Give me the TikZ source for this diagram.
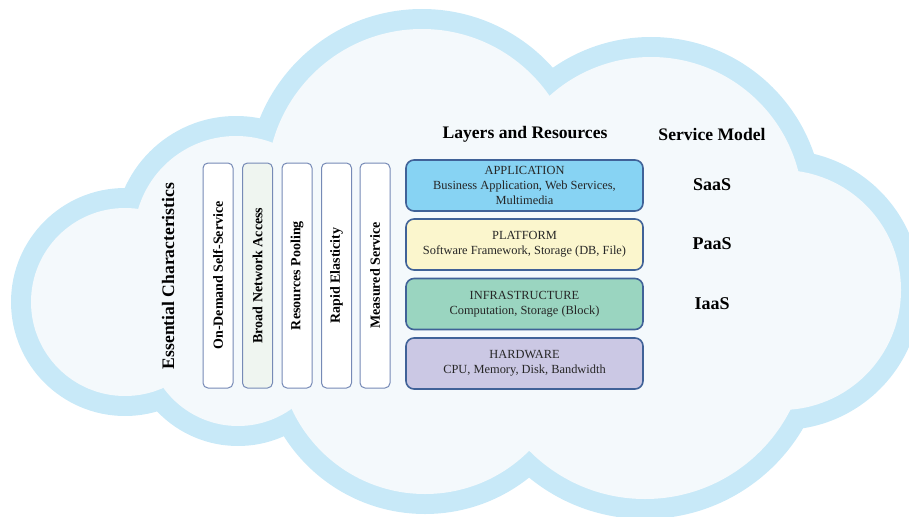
\documentclass[tikz,border=0pt]{standalone}
\usepackage{fontspec}
\setmainfont{Liberation Serif}
\definecolor{cloudband}{RGB}{200,233,248}
\definecolor{cloudfill}{RGB}{244,249,252}
\definecolor{layerline}{RGB}{64,98,152}
\definecolor{charline}{RGB}{118,138,182}
\definecolor{appfill}{RGB}{135,211,243}
\definecolor{platfill}{RGB}{251,246,205}
\definecolor{infrafill}{RGB}{154,213,192}
\definecolor{hwfill}{RGB}{203,200,228}
\definecolor{netfill}{RGB}{239,245,240}
\begin{document}
\begin{tikzpicture}[x=1pt, y=-1pt,
    charbox/.style={draw=charline, line width=1pt, rounded corners=5pt, fill=white,
        rotate=90, minimum width=225pt, minimum height=30pt, inner sep=0pt,
        font=\fontsize{14}{16}\selectfont\bfseries},
    layerbox/.style={draw=layerline, line width=1.6pt, rounded corners=8pt, align=center,
        minimum width=237pt, minimum height=51pt, inner sep=0pt, text=black!85,
        font=\fontsize{12.4}{15}\selectfont},
    heading/.style={font=\fontsize{17.6}{20}\selectfont\bfseries},
    model/.style={font=\fontsize{18}{20}\selectfont\bfseries}]
    % Cloud
    \begin{scope}
        \clip (0,0) rectangle (909,516);
        \foreach \cx/\cy/\r in {125/302/114, 236/238/122, 422/184/175, 651/209/172,
                781/290/140, 645/336/183, 425/347/167, 238/334/112} {
            \fill[cloudband] (\cx,\cy) circle[radius=\r];
        }
        \foreach \cx/\cy/\r in {125/302/114, 236/238/122, 422/184/175, 651/209/172,
                781/290/140, 645/336/183, 425/347/167, 238/334/112} {
            \fill[cloudfill] (\cx,\cy) circle[radius=\r-20];
        }
        \fill[cloudfill] (125,302) -- (236,238) -- (422,184) -- (651,209) -- (781,290)
            -- (645,336) -- (425,347) -- (238,334) -- cycle;
    \end{scope}

    % Headings
    \node[heading, rotate=90] (essential) at (168,276) {Essential Characteristics};
    \node[heading] (layers) at (525,134) {Layers and Resources};
    \node[heading] (service) at (712,134) {Service Model};

    % Essential characteristics
    \node[charbox] (ondemand) at (218,275.5) {On-Demand Self-Service};
    \node[charbox, fill=netfill] (network) at (257.5,275.5) {Broad Network Access};
    \node[charbox] (pooling) at (297,275.5) {Resources Pooling};
    \node[charbox] (elastic) at (336.5,275.5) {Rapid Elasticity};
    \node[charbox] (measured) at (375,275.5) {Measured Service};

    % Layers
    \node[layerbox, fill=appfill] (app) at (524.5,185.5)
        {APPLICATION\\Business Application, Web Services,\\Multimedia};
    \node[layerbox, fill=platfill] (platform) at (524.5,244.5)
        {PLATFORM\\Software Framework, Storage (DB, File)};
    \node[layerbox, fill=infrafill] (infra) at (524.5,304)
        {INFRASTRUCTURE\\Computation, Storage (Block)};
    \node[layerbox, fill=hwfill] (hardware) at (524.5,363.5)
        {HARDWARE\\CPU, Memory, Disk, Bandwidth};

    % Service models
    \node[model] (saas) at (712,185) {SaaS};
    \node[model] (paas) at (712,244) {PaaS};
    \node[model] (iaas) at (712,304) {IaaS};
\end{tikzpicture}
\end{document}
